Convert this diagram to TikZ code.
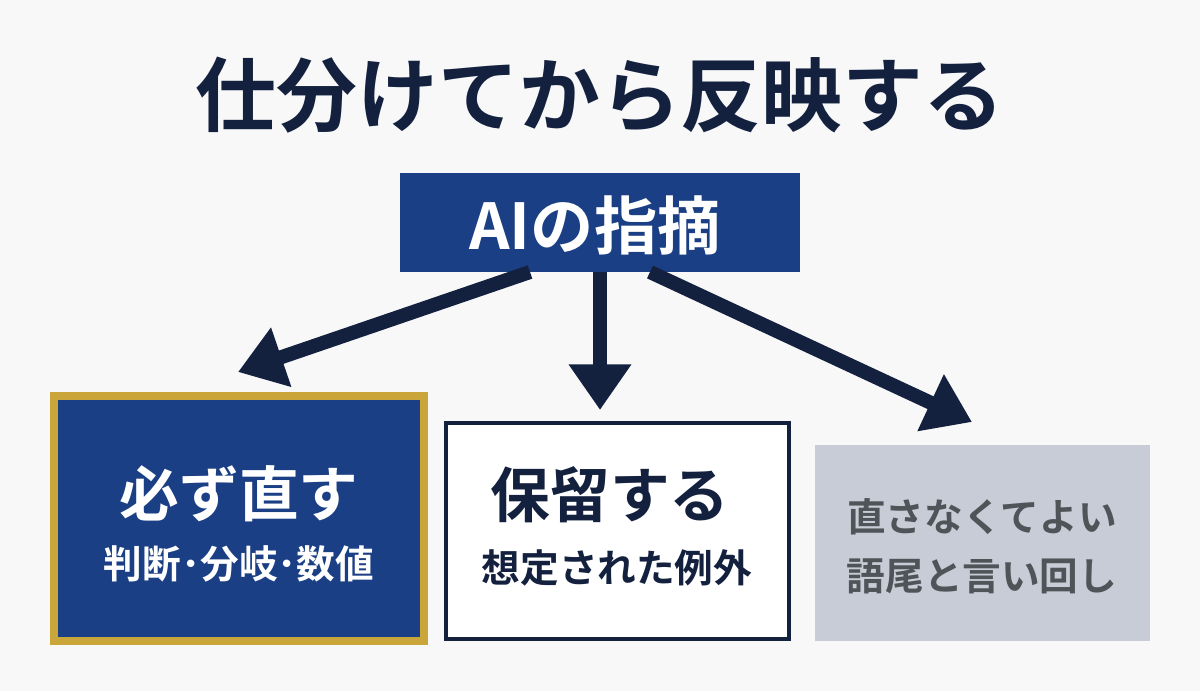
\documentclass[tikz,border=0pt]{standalone}
\usepackage{fontspec}
\newfontfamily\jp{Noto Sans CJK JP Bold}
\usetikzlibrary{arrows.meta}
\definecolor{navy}{HTML}{13213F}
\definecolor{boxblue}{HTML}{1B3F84}
\definecolor{gold}{HTML}{C9A53A}
\definecolor{graybox}{HTML}{C7CCD7}
\definecolor{graytxt}{HTML}{505358}
\definecolor{bg}{HTML}{F8F8F9}
\begin{document}
\begin{tikzpicture}[x=0.02cm,y=-0.02cm,
  box/.style={inner sep=0pt,outer sep=0pt,anchor=north west},
  arr/.style={draw=navy,line width=8pt,-{Triangle[length=26pt,width=34pt]}},
  big/.style={font=\jp\fontsize{34pt}{38pt}\selectfont},
  sub/.style={font=\jp\fontsize{22pt}{26pt}\selectfont}]
\fill[bg] (0,0) rectangle (1200,691);
\node[font=\jp\fontsize{46pt}{50pt}\selectfont,text=navy] (title) at (600,95) {仕分けてから反映する};
\node[box,fill=boxblue,minimum width=400*0.02cm,minimum height=99*0.02cm] (ai) at (400,173) {};
\node[text=white,font=\jp\fontsize{36pt}{40pt}\selectfont] (ait) at (595,225) {AIの指摘};
\node[box,fill=boxblue,draw=gold,line width=4.5pt,minimum width=370*0.02cm,minimum height=245*0.02cm] (must) at (54,396) {};
\node[text=white,big] (m1) at (239,494) {必ず直す};
\node[text=white,sub] (m2) at (239,564) {判断･分岐･数値};
\node[box,fill=white,draw=navy,line width=2.2pt,minimum width=343*0.02cm,minimum height=216*0.02cm] (hold) at (446,423) {};
\node[text=navy,big] (h1) at (610,495) {保留する};
\node[text=navy,sub] (h2) at (617,568) {想定された例外};
\node[box,fill=graybox,minimum width=335*0.02cm,minimum height=196*0.02cm] (ok) at (815,445) {};
\node[text=graytxt,sub] (o1) at (982,517) {直さなくてよい};
\node[text=graytxt,sub] (o2) at (982,576) {語尾と言い回し};
\coordinate (t1) at (238,372);
\coordinate (t2) at (600,410);
\coordinate (t3) at (972,422);
\draw[arr] (530,272) -- (t1);
\draw[arr] (600,272) -- (t2);
\draw[arr] (650,272) -- (t3);
\end{tikzpicture}
\end{document}
